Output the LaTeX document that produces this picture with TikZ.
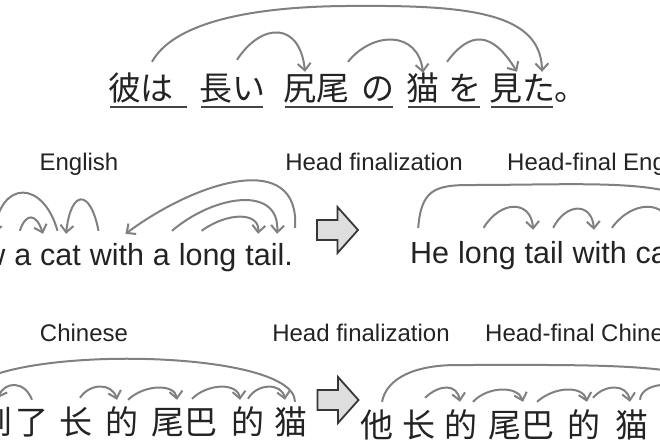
\documentclass[tikz,border=0pt]{standalone}
\usepackage{fontspec}
\setmainfont{Liberation Sans}
\newfontfamily\jpfont{Noto Sans CJK JP}
\newfontfamily\zhfont{Noto Sans CJK SC}
\usetikzlibrary{arrows.meta, positioning}

\definecolor{inkgray}{RGB}{35,35,35}
\definecolor{arcgray}{RGB}{128,128,128}
\definecolor{boxfill}{RGB}{222,222,222}
\definecolor{boxline}{RGB}{55,55,55}

\tikzset{
	lbl/.style={font=\fontsize{24}{28}\selectfont, text=inkgray, inner sep=0pt, anchor=base},
	en/.style={font=\fontsize{30.5}{36}\selectfont, text=inkgray, inner sep=0pt, text height=22pt, text depth=7pt},
	jp/.style={font=\jpfont\fontsize{33}{38}\selectfont, text=inkgray, inner sep=0pt, anchor=base, text height=27pt, text depth=5pt},
	zh/.style={font=\zhfont\fontsize{33}{38}\selectfont, text=inkgray, inner sep=0pt, anchor=base, text height=27pt, text depth=5pt},
	dep/.style={draw=arcgray, line width=2pt, -{Straight Barb[length=7pt,width=13pt]}},
	uline/.style={draw=inkgray!85, line width=1.8pt, shorten <=2pt, shorten >=2pt},
	finarrow/.style={draw=boxline, fill=boxfill, line width=1.8pt, line join=miter},
}

\begin{document}
\begin{tikzpicture}[x=1pt, y=-1pt, node distance=8.5pt]
	\useasboundingbox (0,0) rectangle (660,440);
	\clip (0,0) rectangle (660,440);

	% Japanese
	\node[jp] (ja1) at (125,100) {彼};
	\node[jp] (ja2) at (157,100) {は};
	\node[jp] (ja3) at (232,100) {長い};
	\node[jp] (ja4) at (316,100) {尻尾};
	\node[jp] (ja5) at (378,100) {の};
	\node[jp] (ja6) at (423,100) {猫};
	\node[jp] (ja7) at (465,100) {を};
	\node[jp] (ja8) at (522,100) {見た};
	\node[jp, anchor=base west] (ja9) at (554,100) {。};

	\draw[uline] ([yshift=-7pt]ja1.base west) -- ([xshift=15pt,yshift=-7pt]ja2.base east);
	\draw[uline] ([yshift=-7pt]ja3.base west) -- ([yshift=-7pt]ja3.base east);
	\draw[uline] ([yshift=-7pt]ja4.base west) -- ([yshift=-7pt]ja5.base east);
	\draw[uline] ([yshift=-7pt]ja6.base west) -- ([yshift=-7pt]ja7.base east);
	\draw[uline] ([yshift=-7pt]ja8.base west) -- ([yshift=-7pt]ja8.base east);

	\coordinate (jatop) at (345,6);
	\draw[dep] ([xshift=-5pt,yshift=11pt]ja2.north) .. controls +(20,-36) and +(-105,1) .. (jatop)
		.. controls +(115,-1) and +(-1,-62) .. ([xshift=20pt,yshift=1pt]ja8.north);
	\draw[dep] ([xshift=5pt,yshift=13pt]ja3.north) .. controls +(25,-38) and +(-5,-50) .. ([xshift=-11pt,yshift=1pt]ja4.north);
	\draw[dep] ([xshift=32pt,yshift=11pt]ja4.north) .. controls +(25,-31) and +(-5,-42) .. (ja6.north);
	\draw[dep] ([xshift=24pt,yshift=11pt]ja6.north) .. controls +(23,-31) and +(-25,-41) .. ([xshift=-5pt,yshift=1pt]ja8.north);

	% labels
	\node[lbl] (lbEn) at (79,170) {English};
	\node[lbl] (lbFin1) at (374,170) {Head finalization};
	\node[lbl, anchor=base west] (lbHfe) at (507,170) {Head-final English};
	\node[lbl] (lbZh) at (84,341) {Chinese};
	\node[lbl] (lbFin2) at (361,341) {Head finalization};
	\node[lbl, anchor=base west] (lbHfc) at (485,341) {Head-final Chinese};

	% English
	\node[en, anchor=base east] (en8) at (293,265) {tail.};
	\node[en, base left=of en8] (en7) {long};
	\node[en, base left=of en7] (en6) {a};
	\node[en, base left=of en6] (en5) {with};
	\node[en, base left=of en5] (en4) {cat};
	\node[en, base left=of en4] (en3) {a};
	\node[en, base left=of en3] (en2) {saw};
	\node[en, base left=of en2] (en1) {He};

	\draw[dep] ([xshift=-3pt,yshift=12pt]en4.north) .. controls +(-14.5,-51) and +(6,-54) .. ([xshift=16pt,yshift=9pt]en2.north);
	\draw[dep] ([xshift=-3pt,yshift=12pt]en3.north) .. controls +(6,-18) and +(-7,-21) .. ([xshift=-17.5pt,yshift=9pt]en4.north);
	\draw[dep] ([xshift=-18.4pt,yshift=12pt]en5.north) .. controls +(-8,-42) and +(5,-45) .. ([xshift=5.5pt,yshift=9pt]en4.north);
	\draw[dep] ([xshift=26pt,yshift=15pt]en8.north) .. controls +(5,-78) and +(73,-54) .. ([xshift=8.6pt,yshift=9pt]en5.north);
	\draw[dep] ([xshift=10.6pt,yshift=12pt]en6.north) .. controls +(42,-36) and +(3,-49) .. ([xshift=8pt,yshift=9pt]en8.north);
	\draw[dep] ([xshift=-6pt,yshift=12pt]en7.north) .. controls +(26,-19) and +(2,-22) .. ([xshift=-11pt,yshift=9pt]en8.north);

	\coordinate (fin1) at (337.5,230);
	\draw[finarrow] (fin1) ++(-20.5,-10) -- ++(20.5,0) -- ++(0,-13) -- ++(20.5,23) -- ++(-20.5,23) -- ++(0,-13) -- ++(-20.5,0) -- cycle;

	% Head-final English
	\node[en, anchor=base west] (hf1) at (410,263) {He};
	\node[en, base right=of hf1] (hf2) {long};
	\node[en, base right=of hf2] (hf3) {tail};
	\node[en, base right=of hf3] (hf4) {with};
	\node[en, base right=of hf4] (hf5) {cat};
	\node[en, base right=of hf5] (hf6) {saw.};

	\coordinate (hftop) at (470,185);
	\draw[dep] ([xshift=-11.5pt,yshift=13pt]hf1.north) .. controls +(3,-38) and +(-35,0) .. (hftop)
		.. controls +(130,0) and +(0,-55) .. ([xshift=-9pt,yshift=11pt]hf6.north);
	\draw[dep] ([xshift=-3.3pt,yshift=13pt]hf2.north) .. controls +(17,-28) and +(-2,-30) .. ([xshift=-11pt,yshift=11pt]hf3.north);
	\draw[dep] ([xshift=9pt,yshift=13pt]hf3.north) .. controls +(13,-25.5) and +(-2,-27.5) .. ([xshift=-5.7pt,yshift=11pt]hf4.north);
	\draw[dep] ([xshift=12.3pt,yshift=13pt]hf4.north) .. controls +(20,-28) and +(-3,-30) .. ([xshift=14pt,yshift=11pt]hf5.north);

	% Chinese
	\node[zh] (zh1) at (-82,434) {他};
	\node[zh] (zh2) at (-20.5,434) {看到};
	\node[zh] (zh3) at (32,434) {了};
	\node[zh] (zh4) at (76,434) {长};
	\node[zh] (zh5) at (122,434) {的};
	\node[zh] (zh6) at (184.5,434) {尾巴};
	\node[zh] (zh7) at (248,434) {的};
	\node[zh] (zh8) at (291,434) {猫};

	\draw[dep] ([xshift=4pt,yshift=5pt]zh8.north) .. controls +(0,-57) and +(0,-57) .. ([xshift=-14.5pt,yshift=5pt]zh2.north);
	\draw[dep] ([yshift=7pt]zh3.north) .. controls +(-7,-19) and +(7,-17) .. ([xshift=18.5pt,yshift=9pt]zh2.north);
	\draw[dep] ([xshift=4pt,yshift=9pt]zh4.north) .. controls +(10,-15) and +(-5,-17) .. ([xshift=-5pt,yshift=7pt]zh5.north);
	\draw[dep] ([xshift=6pt,yshift=7pt]zh5.north) .. controls +(17,-16) and +(-2,-16) .. ([xshift=-7.5pt,yshift=7pt]zh6.north);
	\draw[dep] ([xshift=7.5pt,yshift=8pt]zh6.north) .. controls +(16,-16) and +(-2,-17) .. ([xshift=-8pt,yshift=7pt]zh7.north);
	\draw[dep] ([yshift=8pt]zh7.north) .. controls +(9,-16) and +(-3,-17) .. ([xshift=-6pt,yshift=7pt]zh8.north);

	\coordinate (fin2) at (338,400);
	\draw[finarrow] (fin2) ++(-20.5,-10) -- ++(20.5,0) -- ++(0,-13) -- ++(20.5,23) -- ++(-20.5,23) -- ++(0,-13) -- ++(-20.5,0) -- cycle;

	% Head-final Chinese
	\node[zh] (hc1) at (377,437) {他};
	\node[zh] (hc2) at (419,437) {长};
	\node[zh] (hc3) at (461,437) {的};
	\node[zh] (hc4) at (521.5,437) {尾巴};
	\node[zh] (hc5) at (584,437) {的};
	\node[zh] (hc6) at (632,437) {猫};
	\node[zh] (hc7) at (693.5,437) {看到};
	\node[zh] (hc8) at (755,437) {了};

	\coordinate (hctop) at (457,365);
	\draw[dep] ([xshift=5pt,yshift=8pt]hc1.north) .. controls +(5,-25) and +(-40,0) .. (hctop)
		.. controls +(150,0) and +(0,-40) .. ([xshift=26.5pt,yshift=8pt]hc7.north);
	\draw[dep] ([xshift=6pt,yshift=12pt]hc2.north) .. controls +(15,-14) and +(-3,-18) .. ([xshift=-1pt,yshift=8pt]hc3.north);
	\draw[dep] ([xshift=12pt,yshift=8pt]hc3.north) .. controls +(15,-16) and +(-5,-16) .. ([xshift=1.5pt,yshift=8pt]hc4.north);
	\draw[dep] ([xshift=15.5pt,yshift=8pt]hc4.north) .. controls +(18,-16) and +(-4,-16) .. ([xshift=3pt,yshift=8pt]hc5.north);
	\draw[dep] ([xshift=9pt,yshift=12pt]hc5.north) .. controls +(12,-14) and +(-3,-18) .. ([xshift=-2pt,yshift=8pt]hc6.north);
	\draw[dep] ([xshift=8pt,yshift=10pt]hc6.north) .. controls +(1,-20) and +(0,-22) .. ([xshift=-3.5pt,yshift=8pt]hc7.north);
\end{tikzpicture}
\end{document}
